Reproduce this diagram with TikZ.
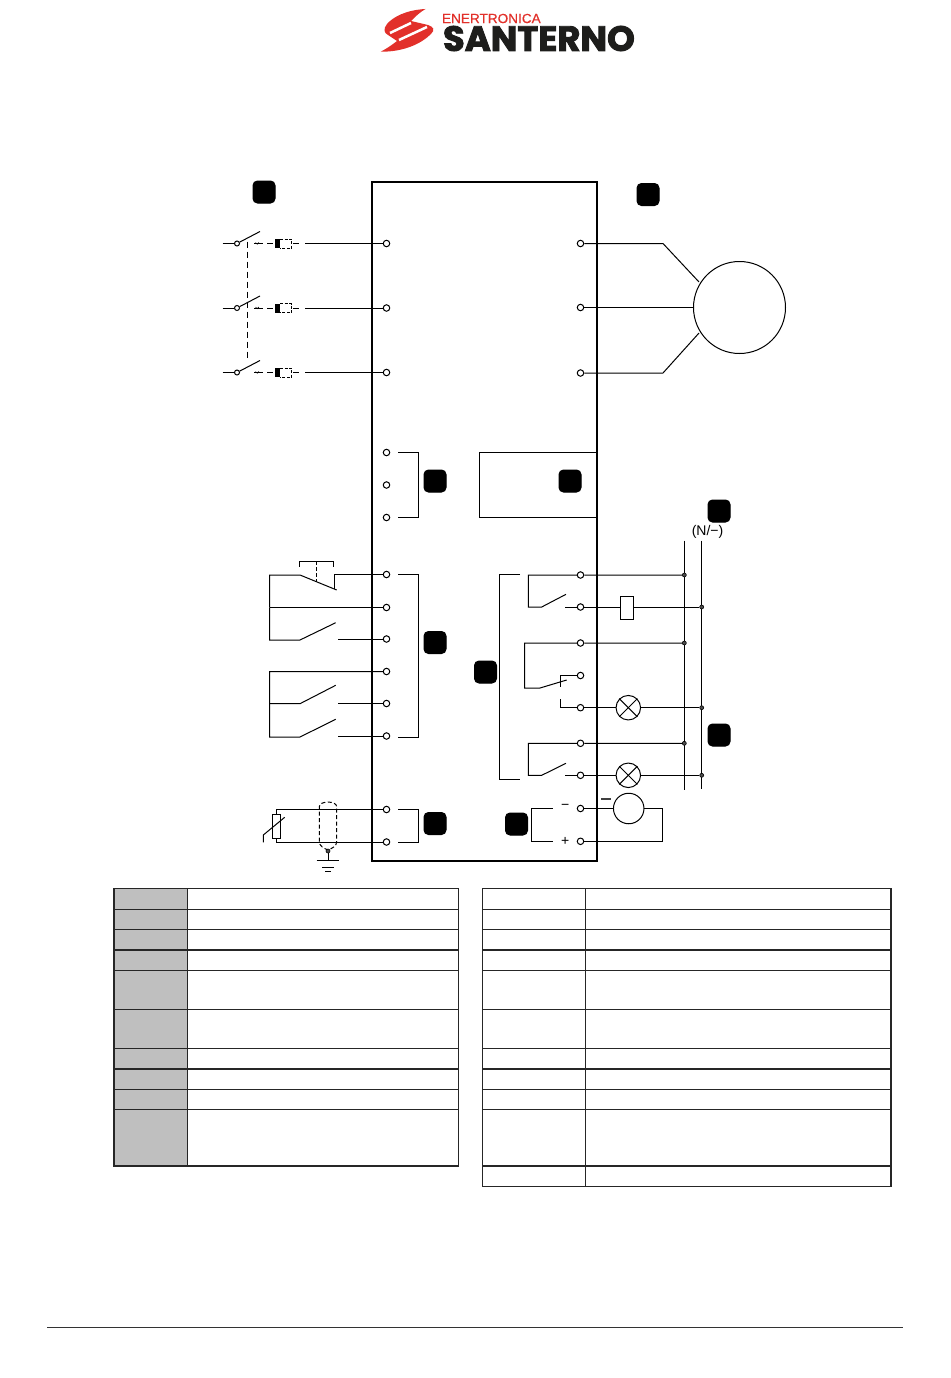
\documentclass[tikz,border=0pt]{standalone}
\usepackage{fontspec}
\setmainfont{Liberation Sans}
\newfontfamily\logofont{Poppins}[FakeBold=2.5]
\newfontfamily\logotop{Liberation Sans}[FakeBold=.5]
\usetikzlibrary{positioning}
\definecolor{logored}{HTML}{E2302A}
\definecolor{logoblack}{HTML}{1D1D1B}
\definecolor{cellgrey}{HTML}{BFBFBF}
\tikzset{
  term/.style={circle,draw,fill=white,inner sep=0pt,minimum size=6.5pt},
  wdot/.style={circle,draw,fill=black!70,inner sep=0pt,minimum size=4pt,line width=.6pt},
  tag/.style={draw=black,fill=black,rounded corners=4.5pt,inner sep=0pt,minimum size=22pt},
  lamp/.style={circle,draw,inner sep=0pt,minimum size=24.5pt},
  wire/.style={line width=1pt},
  dashwire/.style={line width=1pt,dash pattern=on 6pt off 4pt},
  tabline/.style={line width=1.2pt,black!85}
}
\begin{document}
\begin{tikzpicture}[x=1pt,y=-1pt,line width=1pt]
    \useasboundingbox (0,0) rectangle (950,1378);
    \fill[white] (0,0) rectangle (950,1378);

    % logo
    \fill[logored] (425.5,9) .. controls (406,10) and (393,17) .. (387,24)
        .. controls (383,29) and (384,33) .. (388,35) -- (397,41)
        .. controls (392,45) and (386,49) .. (380.7,51.7)
        .. controls (403,52) and (421,44) .. (431,34)
        .. controls (435,30) and (434,27) .. (428,25) -- (411,21)
        .. controls (415,17) and (420,12) .. (425.5,9) -- cycle;
    \draw[white,line width=2.5pt] (390,33) -- (411,23);
    \draw[white,line width=2.5pt] (399,40) -- (427,27);
    \node[logored,anchor=west,inner sep=0pt,xscale=1.03] (brandtop) at (441.5,18.5) {\fontsize{13.2}{14}\selectfont\logotop ENERTRONICA};
    \node[logoblack,anchor=west,inner sep=0pt,xscale=1.01] (brand) at (442.5,38.5) {\fontsize{35}{36}\selectfont\logofont\bfseries SANTERNO};

    % drive
    \draw[line width=2pt] (371.5,182) rectangle (597,861);
    \coordinate (boxne) at (597,452);
    \coordinate (boxse) at (597,517.5);
    \coordinate (relnw) at (479.5,452);
    \coordinate (relsw) at (479.5,517.5);
    \draw (boxne) -- (relnw) -- (relsw) -- (boxse);

    % tags
    \node[tag] (t1) at (264,192) {};
    \node[tag] (t2) at (648,194.5) {};
    \node[tag] (t3) at (435,481) {};
    \node[tag] (t4) at (570,481) {};
    \node[tag] (t5) at (719,511) {};
    \node[tag] (t6) at (435,642.5) {};
    \node[tag] (t7) at (485.5,672) {};
    \node[tag] (t8) at (719,735) {};
    \node[tag] (t9) at (435,823.5) {};
    \node[tag] (t10) at (516.5,824) {};

    % mains side
    \foreach \n/\y in {a/243.5,b/308,c/372.5}{
        \node[term] (in\n) at (386.5,\y) {};
        \node[circle,draw,inner sep=0pt,minimum size=5pt] (sw\n) at (237,\y) {};
        \coordinate (lin\n) at (222.5,\y);
        \coordinate (arm\n) at (260,\y-12);
        \coordinate (fixl\n) at (254,\y);
        \coordinate (fixr\n) at (263,\y);
        \coordinate (fus\n) at (275,\y);
        \coordinate (fue\n) at (302,\y);
        \coordinate (out\n) at (305,\y);
        \draw (lin\n) -- (sw\n);
        \draw (sw\n) -- (arm\n);
        \draw (fixl\n) -- (fixr\n);
        \draw[line width=.7pt] (fixl\n)++(1.5,-1) arc (180:0:1.7);
        \draw[dashwire] (fixr\n)++(4,0) -- (fus\n);
        \fill (fus\n)++(0,-4.5) rectangle ++(5.3,9);
        \draw[line width=.8pt,dash pattern=on 3pt off 1.5pt] (fus\n)++(5,-4.5) -- ++(11.5,0) -- ++(0,9) -- ++(-11.5,0);
        \draw[dashwire] (fue\n)++(-9,0) -- (fue\n);
        \draw (out\n) -- (in\n);
    }
    \coordinate (linka) at (247.5,241.5);
    \coordinate (linkc) at (247.5,358.5);
    \draw[dashwire] (linka) -- (linkc);

    % motor
    \node[circle,draw,inner sep=0pt,minimum size=92pt] (motor) at (739.5,307.5) {};
    \foreach \n/\y in {a/243.5,b/307.5,c/373}{
        \node[term] (mo\n) at (580.5,\y) {};
    }
    \coordinate (bena) at (663,243.5);
    \coordinate (benc) at (663,373);
    \coordinate (mota) at (699,282);
    \coordinate (motc) at (699,333);
    \draw (moa) -- (bena) -- (mota);
    \draw (mob) -- (motor.west);
    \draw (moc) -- (benc) -- (motc);

    % three terminals, top left
    \node[term] (ra) at (386.5,452.5) {};
    \node[term] (rb) at (386.5,485) {};
    \node[term] (rc) at (386.5,517.5) {};
    \coordinate (ba) at (398,452.5);
    \coordinate (bb) at (418.3,452.5);
    \coordinate (bc) at (418.3,517.5);
    \coordinate (bd) at (398,517.5);
    \draw (ba) -- (bb) -- (bc) -- (bd);

    % digital inputs
    \node[term] (da) at (386.5,574.5) {};
    \node[term] (db) at (386.5,607.5) {};
    \node[term] (dc) at (386.5,639) {};
    \node[term] (dd) at (386.5,671.5) {};
    \node[term] (de) at (386.5,703.5) {};
    \node[term] (df) at (386.5,736) {};
    \coordinate (nw) at (269.5,575);
    \coordinate (nwb) at (269.5,607.5);
    \coordinate (nwc) at (269.5,640);
    \coordinate (hinga) at (300,575);
    \coordinate (tipa) at (336.7,590);
    \coordinate (upa) at (334,574.5);
    \coordinate (upb) at (334,589);
    \draw (nwb) -- (nw) -- (hinga) -- (tipa);
    \draw (da) -- (upa) -- (upb);
    \draw (nwb) -- (db);
    \coordinate (hingc) at (300,640);
    \coordinate (tipc) at (335.7,622.7);
    \coordinate (fixc) at (338,639);
    \draw (nwb) -- (nwc) -- (hingc) -- (tipc);
    \draw (fixc) -- (dc);
    \coordinate (btna) at (299.7,566.7);
    \coordinate (btnb) at (299.7,561);
    \coordinate (btnc) at (333.3,561);
    \coordinate (btnd) at (333.3,566.7);
    \coordinate (btnm) at (316.7,561);
    \coordinate (btne) at (316.7,582);
    \draw (btna) -- (btnb) -- (btnc) -- (btnd);
    \draw[dash pattern=on 4pt off 2pt] (btnm) -- (btne);
    \coordinate (nwd) at (269.5,671.5);
    \coordinate (nwe) at (269.5,703.7);
    \coordinate (nwf) at (269.5,737);
    \coordinate (hinge) at (300,703.7);
    \coordinate (tipe) at (335.7,685.3);
    \coordinate (fixe) at (338,703.5);
    \coordinate (hingf) at (300,737);
    \coordinate (tipf) at (335.7,719.3);
    \coordinate (fixf) at (338,736);
    \draw (dd) -- (nwd) -- (nwe) -- (hinge) -- (tipe);
    \draw (nwe) -- (nwf) -- (hingf) -- (tipf);
    \draw (fixe) -- (de);
    \draw (fixf) -- (df);
    \coordinate (bdia) at (398,574.5);
    \coordinate (bdib) at (418.3,574.5);
    \coordinate (bdic) at (418.3,737);
    \coordinate (bdid) at (398,737);
    \draw (bdia) -- (bdib) -- (bdic) -- (bdid);

    % analog input
    \node[term] (aa) at (386.5,809.5) {};
    \node[term] (ab) at (386.5,842) {};
    \coordinate (potn) at (276.5,809.5);
    \coordinate (pots) at (276.5,842);
    \node[draw,fill=white,inner sep=0pt,minimum width=8.5pt,minimum height=24.5pt] (pot) at (276.5,826.3) {};
    \draw (aa) -- (potn) -- (pot.north);
    \draw (ab) -- (pots) -- (pot.south);
    \coordinate (wipa) at (263.3,842.3);
    \coordinate (wipb) at (263.3,835);
    \coordinate (wipc) at (284.7,817.3);
    \draw (wipa) -- (wipb) -- (wipc);
    \draw[dash pattern=on 4pt off 2.5pt] (319.3,841.7) -- (319.3,806.7) .. controls (319.3,800.5) and (336.7,800.5) .. (336.7,806.7) -- (336.7,841.7) .. controls (336.7,846) and (332,848.5) .. (328,850) .. controls (324,848.5) and (319.3,846) .. (319.3,841.7);
    \node[wdot] (gnd) at (328,851) {};
    \coordinate (gnda) at (328,860.7);
    \draw (gnd) -- (gnda);
    \draw (316.7,860.7) -- (339.3,860.7);
    \draw (322,867) -- (334,867);
    \draw (325,871.7) -- (331,871.7);
    \coordinate (banaa) at (398,809.5);
    \coordinate (banab) at (418.3,809.5);
    \coordinate (banac) at (418.3,842);
    \coordinate (banad) at (398,842);
    \draw (banaa) -- (banab) -- (banac) -- (banad);

    % relay outputs
    \coordinate (busa) at (684.3,540.7);
    \coordinate (busas) at (684.3,790);
    \coordinate (busb) at (701.7,540.7);
    \coordinate (busbs) at (701.7,788.5);
    \draw (busa) -- (busas);
    \draw (busb) -- (busbs);
    \node[inner sep=0pt,font=\fontsize{14}{15}\selectfont] (neutral) at (707.5,531.5) {(N/−)};

    \node[term] (ka) at (580.5,575) {};
    \node[term] (kb) at (580.5,607) {};
    \node[term] (kc) at (580.5,643) {};
    \node[term] (kd) at (580.5,675.5) {};
    \node[term] (ke) at (580.5,707.7) {};
    \node[term] (kf) at (580.5,743.3) {};
    \node[term] (kg) at (580.5,775.3) {};
    \node[wdot] (da1) at (684.3,575) {};
    \node[wdot] (da2) at (684.3,643) {};
    \node[wdot] (da3) at (684.3,743.3) {};
    \node[wdot] (db1) at (701.7,607) {};
    \node[wdot] (db2) at (701.7,707.7) {};
    \node[wdot] (db3) at (701.7,775.3) {};
    \coordinate (kaw) at (528.3,575);
    \coordinate (kas) at (528.3,607);
    \coordinate (kah) at (541.7,607);
    \coordinate (kat) at (566,594.3);
    \coordinate (kbf) at (565.3,607);
    \draw (da1) -- (ka) -- (kaw) -- (kas) -- (kah) -- (kat);
    \draw (kbf) -- (kb);
    \node[draw,fill=white,inner sep=0pt,minimum width=13pt,minimum height=23pt] (coil) at (626.8,607.8) {};
    \draw (kb) -- (kb -| coil.west);
    \draw (kb -| coil.east) -- (db1);
    \coordinate (kcw) at (524.7,643);
    \coordinate (kcs) at (524.7,688);
    \coordinate (kch) at (540,688);
    \coordinate (kct) at (566.7,680);
    \coordinate (kdw) at (560.3,675.5);
    \coordinate (kds) at (560.3,687);
    \coordinate (kew) at (560.3,707.7);
    \coordinate (ken) at (560.3,699.3);
    \draw (da2) -- (kc) -- (kcw) -- (kcs) -- (kch) -- (kct);
    \draw (kd) -- (kdw) -- (kds);
    \draw (ke) -- (kew) -- (ken);
    \node[lamp] (lampa) at (628.3,707.7) {};
    \draw (lampa.north west) -- (lampa.south east);
    \draw (lampa.north east) -- (lampa.south west);
    \draw (ke) -- (lampa) -- (db2);
    \coordinate (kfw) at (528.3,743.3);
    \coordinate (kfs) at (528.3,775.3);
    \coordinate (kfh) at (541.7,775.3);
    \coordinate (kft) at (566,763.3);
    \coordinate (kgf) at (565.3,775.3);
    \draw (da3) -- (kf) -- (kfw) -- (kfs) -- (kfh) -- (kft);
    \draw (kgf) -- (kg);
    \node[lamp] (lampb) at (628.3,775.3) {};
    \draw (lampb.north west) -- (lampb.south east);
    \draw (lampb.north east) -- (lampb.south west);
    \draw (kg) -- (lampb) -- (db3);
    \coordinate (brka) at (520,574.5);
    \coordinate (brkb) at (499.3,574.5);
    \coordinate (brkc) at (499.3,779.3);
    \coordinate (brkd) at (520,779.3);
    \draw (brka) -- (brkb) -- (brkc) -- (brkd);

    % analog output
    \node[term] (ma) at (580.5,808.5) {};
    \node[term] (mb) at (580.5,841.3) {};
    \node[circle,draw,inner sep=0pt,minimum size=30.5pt] (meter) at (628.7,808.5) {};
    \coordinate (metr) at (662.7,808.5);
    \coordinate (mets) at (662.7,841.3);
    \draw (ma) -- (meter) -- (metr) -- (mets) -- (mb);
    \node[inner sep=0pt,font=\fontsize{14}{15}\selectfont] (pmin) at (565.3,807) {−};
    \node[inner sep=0pt,font=\fontsize{14}{15}\selectfont] (pplu) at (565.3,841) {+};
    \coordinate (mina) at (601,799);
    \coordinate (minb) at (611,799);
    \draw[line width=1.6pt,black!75] (mina) -- (minb);
    \coordinate (bmoa) at (552.7,808.3);
    \coordinate (bmob) at (531.3,808.3);
    \coordinate (bmoc) at (531.3,841.3);
    \coordinate (bmod) at (552.7,841.3);
    \draw (bmoa) -- (bmob) -- (bmoc) -- (bmod);

    % tables
    \fill[cellgrey] (114,888.5) rectangle (187.7,1166);
    \foreach \y in {909.3,929.7,950,970.3,1009.7,1048.3,1069,1089.3,1109.7}{
        \draw[tabline] (114,\y) -- (458.3,\y);
        \draw[tabline] (482.7,\y) -- (891,\y);
    }
    \draw[tabline] (482.7,1166) -- (891,1166);
    \draw[tabline] (187.7,888.5) -- (187.7,1166);
    \draw[tabline] (585.3,888.5) -- (585.3,1186.3);
    \draw[tabline] (114,888.5) rectangle (458.3,1166);
    \draw[tabline] (482.7,888.5) rectangle (891,1186.3);

    % footer
    \coordinate (fota) at (47,1327);
    \coordinate (fotb) at (903,1327);
    \draw[line width=.8pt,black!80] (fota) -- (fotb);
\end{tikzpicture}
\end{document}
